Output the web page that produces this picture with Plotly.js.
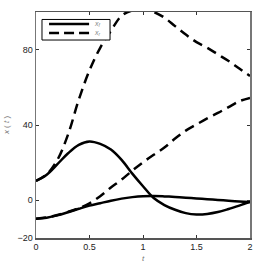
<!DOCTYPE html>
<html>
<head>
<meta charset="utf-8">
<script src="https://cdn.plot.ly/plotly-3.0.1.min.js"></script>
<style>html,body{margin:0;padding:0;background:#fff;}#chart{width:259px;height:264px;}</style>
</head>
<body>
<div id="chart"></div>
<script>
var t = [0,0.1,0.2,0.3,0.4,0.5,0.6,0.7,0.8,0.9,1.0,1.1,1.2,1.3,1.4,1.5,1.6,1.7,1.8,1.9,2.0];
var xfA = [10.3,13.6,19.2,25,29.5,31.3,30,27,21.5,14.2,7.5,1.2,-2.5,-5,-6.8,-7.5,-7.2,-6.2,-4.6,-2.8,-0.9];
var xfB = [-9.8,-9.2,-8,-6.3,-4.5,-2.8,-1.5,-0.2,0.9,1.7,2.2,2.3,2.1,1.8,1.4,1.0,0.6,0.2,-0.2,-0.6,-0.9];
var xrA = [10.3,13.8,21.5,35,53.5,69,81,90,98,100.8,101.3,100,97,92.5,88,84,81,77.5,74,70,66];
var xrB = [-9.8,-9.1,-7.8,-6.1,-4.2,-1.6,2.2,6.8,11,15.8,20.2,24.2,28,32.8,37,40.3,43.5,46.4,49.5,52.6,54.4];
var names = ['<i>x</i><sub><i>f</i></sub>', '<i>x</i><sub><i>r</i></sub>'];
var xTicks = [0,0.5,1,1.5,2];
var xTickText = ['0','0.5','1','1.5','2'];
var yTicks = [-20,0,40,80];
var yTickText = ['\u221220','0','40','80'];

var solid = {color:'#000', width:2.5, shape:'spline', smoothing:1};
var dashed = {color:'#000', width:2.5, dash:'10px,6px', shape:'spline', smoothing:1};
var traces = [
  {x:t, y:xfA, mode:'lines', name:'x_f', line:solid, showlegend:false},
  {x:t, y:xrA, mode:'lines', name:'x_r', line:dashed, showlegend:false},
  {x:t, y:xfB, mode:'lines', line:solid, showlegend:false},
  {x:t, y:xrB, mode:'lines', line:dashed, showlegend:false}
];
var fontFam = 'Liberation Sans, Arial, sans-serif';
// hand-made compact legend box (position/style only)
var lg = {x0:0.028, x1:0.346, y0:0.876, y1:0.967, lx0:0.061, lx1:0.248, ly:[0.947,0.907], tx:0.262};
var shapes = [
  {type:'rect', xref:'paper', yref:'paper', x0:lg.x0, x1:lg.x1, y0:lg.y0, y1:lg.y1, line:{color:'#000', width:1}, fillcolor:'#fff', layer:'above'},
  {type:'line', xref:'paper', yref:'paper', x0:lg.lx0, x1:lg.lx1, y0:lg.ly[0], y1:lg.ly[0], line:{color:'#000', width:2.5}, layer:'above'},
  {type:'line', xref:'paper', yref:'paper', x0:lg.lx0, x1:lg.lx1, y0:lg.ly[1], y1:lg.ly[1], line:{color:'#000', width:2.5, dash:'10px,5px'}, layer:'above'}
];
var annotations = names.map(function(n, i){
  return {xref:'paper', yref:'paper', x:lg.tx, y:lg.ly[i], xanchor:'left', yanchor:'middle', showarrow:false,
          text:n, font:{family:fontFam, size:7, color:'#888'}};
});
var layout = {
  width:259, height:264,
  margin:{l:36, r:9, t:12, b:26},
  paper_bgcolor:'#fff', plot_bgcolor:'#fff',
  showlegend:false,
  shapes:shapes, annotations:annotations,
  xaxis:{range:[0,2], tickvals:xTicks, ticktext:xTickText, ticks:'inside', ticklen:3, tickcolor:'#333',
         showline:true, linecolor:'#555', linewidth:1.5, mirror:'ticks', showgrid:false, zeroline:false,
         tickfont:{family:fontFam, size:9, color:'#222'}, automargin:false,
         title:{text:'<i>t</i>', font:{family:fontFam, size:8, color:'#777'}, standoff:4}},
  yaxis:{range:[-20,100], tickvals:yTicks, ticktext:yTickText, ticks:'inside', ticklen:3, tickcolor:'#333',
         showline:true, linecolor:'#777', linewidth:1.5, mirror:'ticks', showgrid:false, zeroline:false,
         tickfont:{family:fontFam, size:9, color:'#222'}, automargin:false,
         title:{text:'<i>x</i> ( <i>t</i> )', font:{family:fontFam, size:8, color:'#777'}, standoff:6}}
};
Plotly.newPlot('chart', traces, layout, {displayModeBar:false, staticPlot:true});
</script>
</body>
</html>
